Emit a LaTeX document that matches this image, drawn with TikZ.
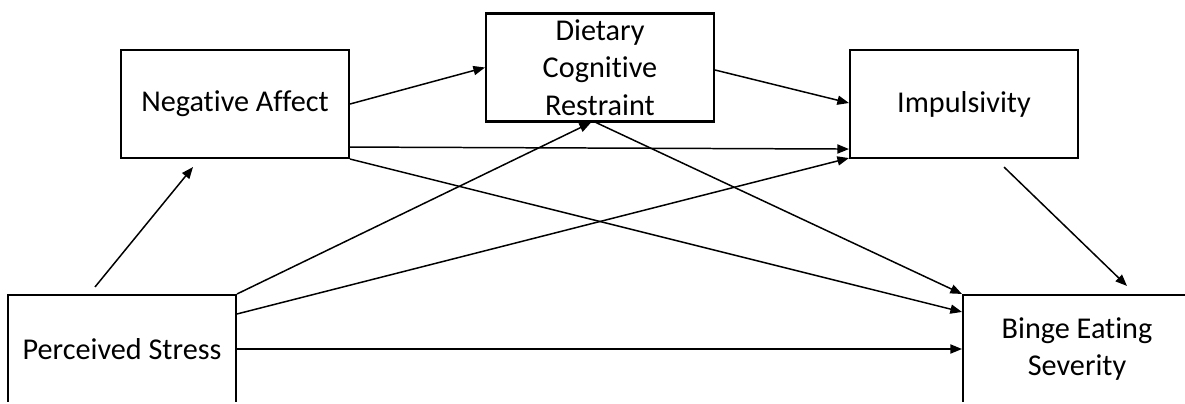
\documentclass[tikz,border=0pt]{standalone}
\usepackage{fontspec}
\setmainfont[Ligatures=NoCommon]{Carlito}
\usetikzlibrary{arrows.meta,calc}

\tikzset{
  varbox/.style={draw=black, line width=1.2pt, fill=white, rectangle,
    minimum width=4.56cm, minimum height=2.16cm, inner sep=0pt,
    align=center, font=\fontsize{17.2}{21.3}\selectfont},
  path/.style={draw=black, line width=0.85pt,
    -{Triangle[length=6.6pt,width=5.2pt]}}
}

\begin{document}
\begin{tikzpicture}[x=0.02cm, y=-0.02cm]
  \useasboundingbox (0,0) rectangle (1185,403);
  \clip (0,0) rectangle (1185,401.6);

  % variables
  \node[varbox] (ps)  at (122,349)   {Perceived Stress};
  \node[varbox] (na)  at (235,104)   {Negative Affect};
  \node[varbox] (dcr) at (600,67.5)  {Dietary\\Cognitive\\Restraint};
  \node[varbox] (imp) at (964,104)   {Impulsivity};
  \node[varbox] (bes) at (1077,349)  {Binge Eating\\Severity};

  % paths of the serial mediation model
  \draw[path] ($(ps.north)+(-27,-7)$) -- ($(na.south)+(-42,8)$);
  \draw[path] (na.east) -- (dcr.west);
  \draw[path] ($(dcr.east)+(0,2.5)$) -- ($(imp.west)+(0,-1)$);
  \draw[path] ($(na.south east)+(0,-12)$) -- ($(imp.south west)+(0,-10)$);
  \draw[path] (na.south east) -- ($(bes.north west)+(0,18)$);
  \draw[path] ($(dcr.south)+(-4,0)$) -- (bes.north west);
  \draw[path] (ps.north east) -- ($(dcr.south)+(-9,0)$);
  \draw[path] ($(ps.north east)+(0,20)$) -- ($(imp.south west)+(0,-1)$);
  \draw[path] (ps.east) -- (bes.west);
  \draw[path] ($(imp.south)+(40,8)$) -- ($(bes.north)+(50,-8)$);
\end{tikzpicture}
\end{document}
